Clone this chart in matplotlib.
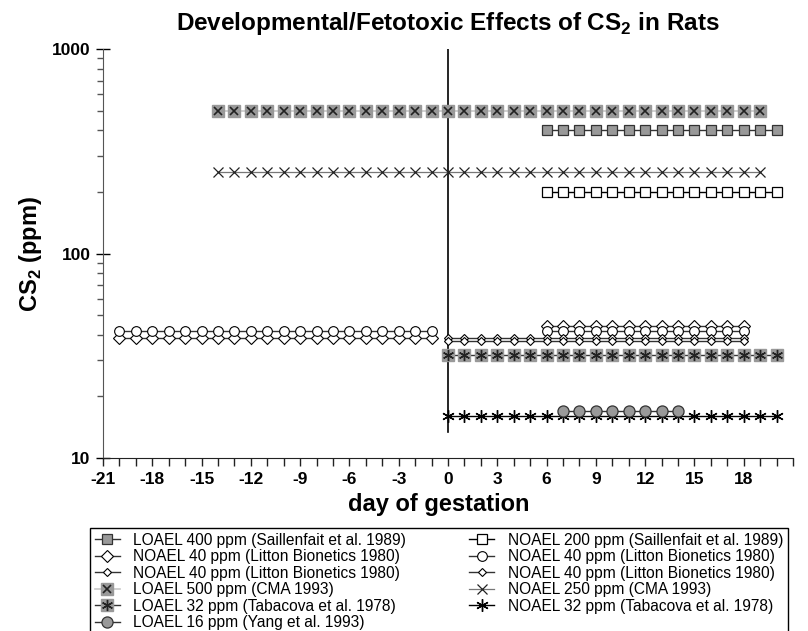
import numpy as np
import matplotlib.pyplot as plt
from matplotlib.ticker import MultipleLocator, LogLocator, NullFormatter, FixedLocator
from matplotlib.legend_handler import HandlerTuple

plt.rcParams['font.family'] = ['Liberation Sans', 'DejaVu Sans']
plt.rcParams['mathtext.fontset'] = 'custom'
plt.rcParams['mathtext.rm'] = 'Liberation Sans'
plt.rcParams['mathtext.bf'] = 'Liberation Sans:bold'
plt.rcParams['axes.unicode_minus'] = False

# exposure windows (day of gestation) and plotted levels (ppm)
sail_days = list(range(6, 21))
loael_sail = [400] * len(sail_days)
noael_sail = [200] * len(sail_days)

cma_days = list(range(-14, 20))
loael_cma = [500] * len(cma_days)
noael_cma = [250] * len(cma_days)

tab_days = list(range(0, 21))
loael_tab = [32] * len(tab_days)
noael_tab = [16] * len(tab_days)

yang_days = list(range(7, 15))
loael_yang = [17] * len(yang_days)

litton_pre_days = list(range(-20, 0))
litton_post_days = list(range(6, 19))
litton_full_days = list(range(0, 19))
litton_circle_pre = [41.8] * len(litton_pre_days)
litton_circle_post = [42.0] * len(litton_post_days)
litton_diamond_pre = [38.8] * len(litton_pre_days)
litton_diamond_post = [44.2] * len(litton_post_days)
litton_small_a = [38.5] * len(litton_full_days)
litton_small_b = [37.3] * len(litton_full_days)

gray = '#999999'
dark = '#333333'

fig = plt.figure(figsize=(8.08, 6.31), dpi=100)
ax = fig.add_axes([103/808, 1 - 458/631, (793-103)/808, (458-49)/631])

# mating day line
ax.plot([0, 0], [13.4, 1000], color='black', lw=1.2, zorder=1)

h = {}
# LOAEL 500 ppm (CMA 1993)
l1, = ax.plot(cma_days, loael_cma, color='#c8c8c8', lw=1.2, marker='s', ms=8,
              mfc=gray, mec=gray, zorder=3)
l1b, = ax.plot(cma_days, loael_cma, ls='none', marker='x', ms=6, mec='#222222', mew=1.2, zorder=4)
h['cma_l'] = (l1, l1b)
# NOAEL 250 ppm (CMA 1993)
l2, = ax.plot(cma_days, noael_cma, color='#777777', lw=0.9, marker='x', ms=7.5,
              mec='#222222', mew=0.9, zorder=3)
h['cma_n'] = l2
# Saillenfait
l3, = ax.plot(sail_days, loael_sail, color=dark, lw=1.0, marker='s', ms=7.5,
              mfc=gray, mec=dark, mew=0.9, zorder=3)
h['sail_l'] = l3
l4, = ax.plot(sail_days, noael_sail, color='black', lw=1.0, marker='s', ms=7.5,
              mfc='white', mec='black', mew=0.9, zorder=3)
h['sail_n'] = l4
# Litton Bionetics
l5, = ax.plot(litton_pre_days, litton_diamond_pre, color=dark, lw=1.0, marker='D', ms=6,
              mfc='white', mec='black', mew=0.8, zorder=3)
ax.plot(litton_post_days, litton_diamond_post, color=dark, lw=1.0, marker='D', ms=6,
        mfc='white', mec='black', mew=0.8, zorder=3)
h['lit_d'] = l5
l6, = ax.plot(litton_pre_days, litton_circle_pre, color=dark, lw=1.0, marker='o', ms=7,
              mfc='white', mec='black', mew=0.8, zorder=3)
ax.plot(litton_post_days, litton_circle_post, color=dark, lw=1.0, marker='o', ms=7,
        mfc='white', mec='black', mew=0.8, zorder=3)
h['lit_c'] = l6
l7, = ax.plot(litton_full_days, litton_small_a, color=dark, lw=1.0, marker='D', ms=4.5,
              mfc='white', mec='black', mew=0.8, zorder=3)
h['lit_sa'] = l7
l8, = ax.plot(litton_full_days, litton_small_b, color=dark, lw=1.0, marker='D', ms=4.5,
              mfc='white', mec='black', mew=0.8, zorder=3)
h['lit_sb'] = l8
# Tabacova
l9, = ax.plot(tab_days, loael_tab, color=dark, lw=1.0, marker='s', ms=8,
              mfc=gray, mec=gray, zorder=3)
l9b, = ax.plot(tab_days, loael_tab, ls='none', marker=(6, 2, 0), ms=8, mec='#222222', mew=1.0, zorder=4)
h['tab_l'] = (l9, l9b)
l10, = ax.plot(tab_days, noael_tab, color='black', lw=1.0, marker=(6, 2, 0), ms=9,
               mec='black', mew=1.0, zorder=3)
h['tab_n'] = l10
# Yang
l11, = ax.plot(yang_days, loael_yang, color=dark, lw=1.0, marker='o', ms=8,
               mfc=gray, mec=dark, mew=0.9, zorder=5)
h['yang_l'] = l11

ax.set_yscale('log')
ax.set_ylim(10, 1000)
ax.set_xlim(-21, 21)
ax.xaxis.set_major_locator(FixedLocator(list(range(-21, 19, 3))))
ax.xaxis.set_minor_locator(MultipleLocator(1))
ax.yaxis.set_minor_locator(LogLocator(base=10, subs=np.arange(2, 10)))
ax.yaxis.set_minor_formatter(NullFormatter())
ax.set_yticks([10, 100, 1000])
ax.set_yticklabels(['10', '100', '1000'])

for s in ['top', 'right']:
    ax.spines[s].set_visible(False)
ax.spines['left'].set_color('#555555')
ax.spines['bottom'].set_color('#222222')
ax.tick_params(axis='x', which='both', direction='out', length=6, width=1, color='#222222')
ax.tick_params(axis='y', which='major', direction='inout', length=10, width=1)
ax.tick_params(axis='y', which='minor', direction='out', length=4, width=1, color='#555555')
ax.tick_params(axis='both', which='major', labelsize=12.5, pad=4)
for t in ax.get_xticklabels() + ax.get_yticklabels():
    t.set_fontweight('bold')

ax.set_xlabel('day of gestation', fontsize=17, fontweight='bold', labelpad=2)
ax.xaxis.set_label_coords((439 - 103) / 690, -0.085)
ax.set_ylabel(r'CS$_\mathbf{2}$ (ppm)', fontsize=17, fontweight='bold', labelpad=6)
ax.set_title(r'Developmental/Fetotoxic Effects of CS$_\mathbf{2}$ in Rats',
             fontsize=17.5, fontweight='bold', pad=14)

labels_left = ['LOAEL 400 ppm (Saillenfait et al. 1989)',
               'NOAEL 40 ppm (Litton Bionetics 1980)',
               'NOAEL 40 ppm (Litton Bionetics 1980)',
               'LOAEL 500 ppm (CMA 1993)',
               'LOAEL 32 ppm (Tabacova et al. 1978)',
               'LOAEL 16 ppm (Yang et al. 1993)']
labels_right = ['NOAEL 200 ppm (Saillenfait et al. 1989)',
                'NOAEL 40 ppm (Litton Bionetics 1980)',
                'NOAEL 40 ppm (Litton Bionetics 1980)',
                'NOAEL 250 ppm (CMA 1993)',
                'NOAEL 32 ppm (Tabacova et al. 1978)']
handles = [h['sail_l'], h['lit_d'], h['lit_sa'], h['cma_l'], h['tab_l'], h['yang_l'],
           h['sail_n'], h['lit_c'], h['lit_sb'], h['cma_n'], h['tab_n']]
leg = fig.legend(handles, labels_left + labels_right, ncol=2,
                 loc='upper left', bbox_to_anchor=(90/808, 1 - 528/631),
                 borderaxespad=0, fontsize=11.2, frameon=True, fancybox=False,
                 edgecolor='black', framealpha=1, labelspacing=0.1,
                 handlelength=1.6, handletextpad=0.85, columnspacing=4.1,
                 borderpad=0.3, handler_map={tuple: HandlerTuple(ndivide=1, pad=0)})
leg.get_frame().set_linewidth(1.0)

fig.savefig('out.png', dpi=100)
